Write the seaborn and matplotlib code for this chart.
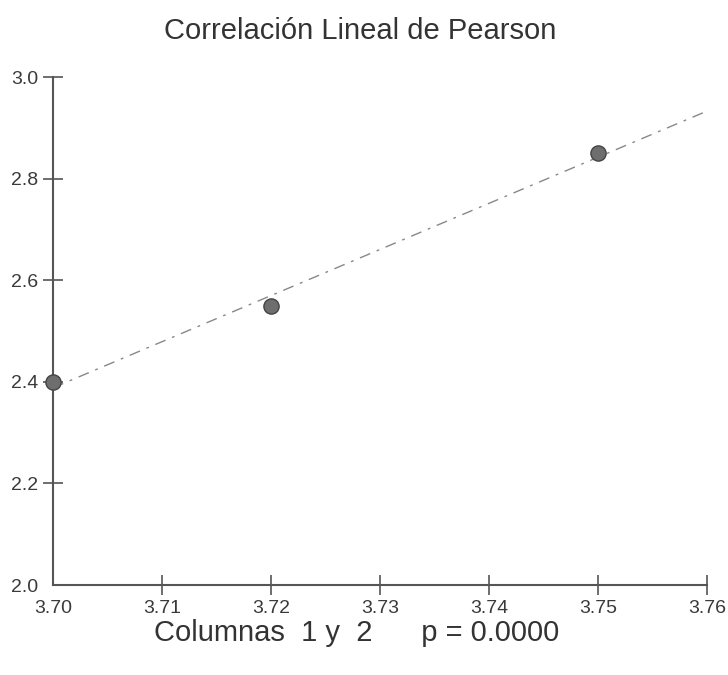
import numpy as np
import pandas as pd
import matplotlib
matplotlib.use("Agg")
import matplotlib.pyplot as plt
import seaborn as sns

# data
x_vals = [3.70, 3.72, 3.75]
y_vals = [2.40, 2.55, 2.85]
x_ticks = [3.70, 3.71, 3.72, 3.73, 3.74, 3.75, 3.76]
y_ticks = [2.0, 2.2, 2.4, 2.6, 2.8, 3.0]
title = "Correlación Lineal de Pearson"
footer = "Columnas  1 y  2      p = 0.0000"

sns.set_style("white")
plt.rcParams['font.family'] = ['Liberation Sans', 'DejaVu Sans']

df = pd.DataFrame({"x": x_vals, "y": y_vals})

fig = plt.figure(figsize=(7.28, 6.75), dpi=100)
ax = fig.add_axes([53/728, 1 - 585/675, (707-53)/728, (585-77)/675])
ax.set_xlim(3.70, 3.76)
ax.set_ylim(2.0, 3.0)

sns.regplot(data=df, x="x", y="y", ax=ax, ci=None, truncate=False,
            scatter_kws=dict(s=120, color="#6e6e6e", edgecolor="#444444",
                             linewidths=1, alpha=1, zorder=3, clip_on=False),
            line_kws=dict(color="#888888", linewidth=1, dashes=(8, 5, 2, 5), zorder=2))
ax.set_xlim(3.70, 3.76)
ax.set_ylim(2.0, 3.0)

ax.set_xticks(x_ticks)
ax.set_xticklabels([f"{v:.2f}" for v in x_ticks])
ax.set_yticks(y_ticks)
ax.set_yticklabels([f"{v:.1f}" for v in y_ticks])
ax.tick_params(bottom=True, left=True, direction="inout", length=15, width=1.2,
               color="#555555", labelsize=14, labelcolor="#3a3a3a", pad=3)
ax.xaxis.get_major_ticks()[0].tick1line.set_visible(False)
ax.yaxis.get_major_ticks()[0].tick1line.set_visible(False)
ax.set_xlabel("")
ax.set_ylabel("")
for s in ["top", "right"]:
    ax.spines[s].set_visible(False)
for s in ["left", "bottom"]:
    ax.spines[s].set_color("#555555")
    ax.spines[s].set_linewidth(1.5)

fig.text(360/728, 1 - 31/675, title, ha="center", va="center", fontsize=21, color="#333333")
fig.text(357/728, 1 - 633/675, footer, ha="center", va="center", fontsize=21, color="#333333")

fig.savefig("out.png", dpi=100)
